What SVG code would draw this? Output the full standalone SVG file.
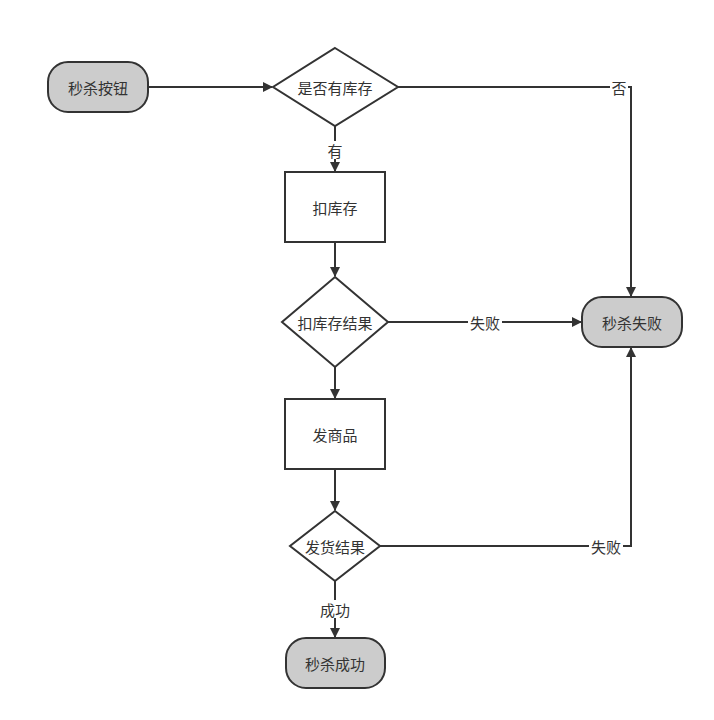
<svg xmlns="http://www.w3.org/2000/svg" width="714" height="720" viewBox="0 0 714 720">
<style>
.n{fill:#fff;stroke:#333;stroke-width:2}
.t{fill:#ccc;stroke:#333;stroke-width:2}
text{font-family:"Noto Sans CJK SC",sans-serif;font-size:15px;fill:#333;text-anchor:middle;dominant-baseline:central}
.c path{fill:none;stroke:#333;stroke-width:2}
.l{fill:#fff}
</style>
<defs><marker id="a" markerWidth="10" markerHeight="10" refX="9" refY="5" orient="auto" markerUnits="userSpaceOnUse"><path d="M0,0 L10,5 L0,10 z" fill="#333"/></marker></defs>
<rect width="714" height="720" fill="#fff"/>
<g class="c">
<path d="M148,87 H272" marker-end="url(#a)"/>
<path d="M398,87 H631 V296" marker-end="url(#a)"/>
<path d="M335,126 V171" marker-end="url(#a)"/>
<path d="M335,242 V276" marker-end="url(#a)"/>
<path d="M388,322 H581" marker-end="url(#a)"/>
<path d="M335,367 V398" marker-end="url(#a)"/>
<path d="M335,469 V510" marker-end="url(#a)"/>
<path d="M380,546 H631 V348" marker-end="url(#a)"/>
<path d="M335,581 V637" marker-end="url(#a)"/>
<rect class="l" x="610" y="78" width="18" height="18"/><text x="619" y="87">否</text>
<rect class="l" x="326" y="141" width="18" height="18"/><text x="335" y="150">有</text>
<rect class="l" x="468" y="313" width="34" height="18"/><text x="485" y="322">失败</text>
<rect class="l" x="589" y="537" width="34" height="18"/><text x="606" y="546">失败</text>
<rect class="l" x="318" y="600" width="34" height="18"/><text x="335" y="609">成功</text>
</g>
<g id="start"><rect class="t" x="48" y="62" width="100" height="50" rx="20"/><text x="98" y="87">秒杀按钮</text></g>
<g id="d1"><polygon class="n" points="335,48 398,87 335,126 273,87"/><text x="335" y="87">是否有库存</text></g>
<g id="deduct"><rect class="n" x="285" y="172" width="100" height="70"/><text x="335" y="207">扣库存</text></g>
<g id="d2"><polygon class="n" points="335,277 388,322 335,367 282,322"/><text x="335" y="322">扣库存结果</text></g>
<g id="ship"><rect class="n" x="285" y="399" width="100" height="70"/><text x="335" y="434">发商品</text></g>
<g id="d3"><polygon class="n" points="335,511 380,546 335,581 290,546"/><text x="335" y="546">发货结果</text></g>
<g id="ok"><rect class="t" x="286" y="638" width="99" height="50" rx="20"/><text x="335" y="663">秒杀成功</text></g>
<g id="fail"><rect class="t" x="582" y="297" width="100" height="50" rx="20"/><text x="632" y="322">秒杀失败</text></g>
</svg>
